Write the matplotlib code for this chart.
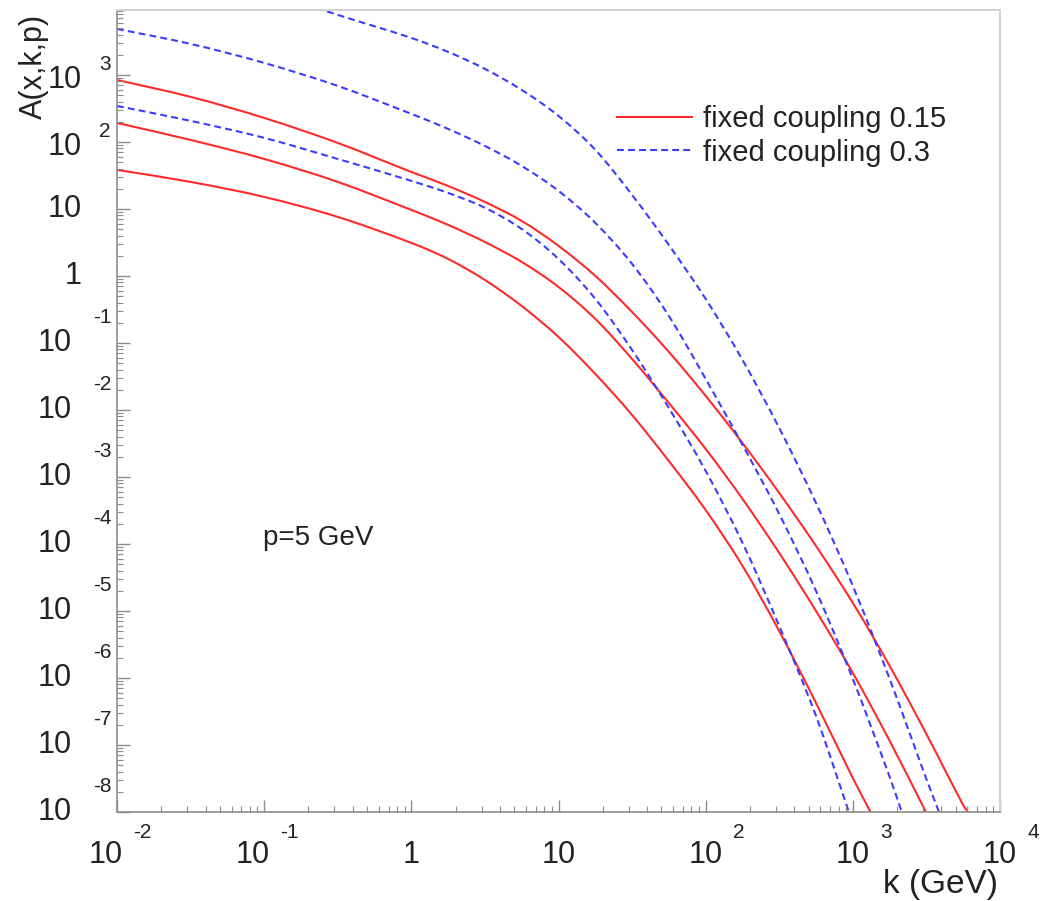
import matplotlib
matplotlib.use("Agg")
import numpy as np
import matplotlib.pyplot as plt
from matplotlib.ticker import LogLocator, NullFormatter
from matplotlib.lines import Line2D
from matplotlib.path import Path
from matplotlib.patches import PathPatch

plt.rcParams["font.family"] = ["Liberation Sans", "DejaVu Sans"]

_TEXT = "#222222"
_RED = "#ff2a2a"
_BLUE = "#3c3cff"
_AXIS = "#8c8c8c"
_FRAME = "#d2d2d2"

# k grid (GeV), quarter decades in the bend
k_grid = [0.01, 0.0316, 0.1, 0.316, 1, 1.78, 3.16, 5.62, 10, 17.8,
          31.6, 56.2, 100, 178, 316, 562, 1000, 1780, 3160, 5620]

# fixed coupling 0.15 (solid red), values on k_grid, then the k where A hits 1e-8
red_1 = [841, 470, 228, 96.6, 35.6, 22.0, 12.7, 6.62, 2.81, 1.00,
         0.290, 0.0735, 0.0162, 3.21e-3, 5.77e-4, 9.33e-5, 1.32e-5, 1.51e-6,
         1.46e-7, 1.27e-8]
red_1_end = 6050
red_2 = [192, 107, 55.7, 25.3, 9.66, 5.77, 3.21, 1.62, 0.685, 0.228,
         0.0577, 0.0127, 2.62e-3, 4.70e-4, 7.35e-5, 1.00e-5, 1.19e-6, 1.15e-7]
red_2_end = 3140
red_3 = [38.2, 25.3, 15.1, 7.60, 3.11, 1.79, 0.871, 0.356, 0.123, 0.0344,
         8.41e-3, 1.73e-3, 3.21e-4, 4.70e-5, 5.02e-6, 4.24e-7, 3.21e-8]
red_3_end = 1320

# fixed coupling 0.3 (dashed blue)
blue_1 = [4860, 2900, 1510, 685, 262, 156, 87.1, 43.8, 18.6, 6.18,
          1.51, 0.253, 0.0290, 3.01e-3, 2.81e-4, 1.99e-5, 9.66e-7, 3.33e-8]
blue_1_end = 2150
blue_2 = [344, 206, 115, 55.7, 26.2, 17.3, 10.4, 5.02, 1.79, 0.454,
          0.0787, 0.0107, 1.23e-3, 1.04e-4, 5.97e-6, 2.71e-7]
blue_2_end = 940
blue_3_start = 2   # first k_grid index (the curve starts above the frame)
blue_3 = [17900, 7870, 3560, 2200, 1230, 597, 244, 76.0, 16.2, 2.90,
          0.454, 0.0557, 5.38e-3, 4.09e-4, 2.36e-5, 9.66e-7, 3.11e-8]
blue_3_end = 3850

A_MIN = 1e-8
x_labels = [(-2, "10", "-2"), (-1, "10", "-1"), (0, "1", None), (1, "10", None),
            (2, "10", "2"), (3, "10", "3"), (4, "10", "4")]
y_labels = [(e, "10", str(e)) for e in range(-8, 0)] + [(0, "1", None), (1, "10", None),
                                                       (2, "10", "2"), (3, "10", "3")]

W, H = 1041, 901
fig = plt.figure(figsize=(W / 100, H / 100), dpi=100)
ax = fig.add_axes([117 / W, 1 - 812 / H, 883 / W, 802 / H])


def smooth_path(vals, end, start=0):
    """Cubic Hermite curve through the read points, in log-log space."""
    ks = k_grid[start:start + len(vals)] + [end]
    x = np.log10(ks)
    y = np.log10(list(vals) + [A_MIN])
    m = np.empty_like(y)
    m[1:-1] = (y[2:] - y[:-2]) / (x[2:] - x[:-2])
    m[0] = (y[1] - y[0]) / (x[1] - x[0])
    m[-1] = (y[-1] - y[-2]) / (x[-1] - x[-2])
    verts, codes = [(x[0], y[0])], [Path.MOVETO]
    for i in range(len(x) - 1):
        h = (x[i + 1] - x[i]) / 3.0
        verts += [(x[i] + h, y[i] + m[i] * h),
                  (x[i + 1] - h, y[i + 1] - m[i + 1] * h),
                  (x[i + 1], y[i + 1])]
        codes += [Path.CURVE4] * 3
    return Path(10.0 ** np.array(verts), codes)


dash = (0, (3.3, 2.0))
for vals, end in [(red_1, red_1_end), (red_2, red_2_end), (red_3, red_3_end)]:
    ax.add_patch(PathPatch(smooth_path(vals, end), facecolor="none",
                           edgecolor=_RED, lw=1.5))
for vals, end, s in [(blue_1, blue_1_end, 0), (blue_2, blue_2_end, 0),
                     (blue_3, blue_3_end, blue_3_start)]:
    ax.add_patch(PathPatch(smooth_path(vals, end, s), facecolor="none",
                           edgecolor=_BLUE, lw=1.5, linestyle=dash))

ax.set_xscale("log")
ax.set_yscale("log")
ax.set_xlim(1e-2, 1e4)
ax.set_ylim(A_MIN, 9.3e3)

for side in ("top", "right"):
    ax.spines[side].set_color(_FRAME)
    ax.spines[side].set_linewidth(1.5)
for side in ("left", "bottom"):
    ax.spines[side].set_color(_AXIS)
    ax.spines[side].set_linewidth(1.2)

for axis in (ax.xaxis, ax.yaxis):
    axis.set_major_locator(LogLocator(base=10, numticks=20))
    axis.set_minor_locator(LogLocator(base=10, subs=range(2, 10), numticks=20))
    axis.set_major_formatter(NullFormatter())
    axis.set_minor_formatter(NullFormatter())
ax.tick_params(which="both", direction="in", color=_AXIS, top=False, right=False)
ax.tick_params(which="major", length=9, width=1.0)
ax.tick_params(which="minor", length=4.5, width=0.8)

# ROOT-style tick labels: "10" with the exponent raised to its right
xt = ax.get_xaxis_transform()
for e, base, exp in x_labels:
    v = 10.0 ** e
    if exp is None:
        ax.annotate(base, (v, 0), xycoords=xt, xytext=(0, -43), textcoords="offset pixels",
                    ha="center", va="center", fontsize=22, color=_TEXT)
        continue
    neg = exp.startswith("-")
    ax.annotate(base, (v, 0), xycoords=xt, xytext=(6 if neg else 17, -43),
                textcoords="offset pixels", ha="right", va="center", fontsize=22, color=_TEXT)
    ax.annotate(exp, (v, 0), xycoords=xt, xytext=(16 if neg else 27, -20),
                textcoords="offset pixels", ha="left", va="center", fontsize=15, color=_TEXT)

yt = ax.get_yaxis_transform()
for e, base, exp in y_labels:
    v = 10.0 ** e
    if exp is None:
        ax.annotate(base, (0, v), xycoords=yt, xytext=(-35, 0), textcoords="offset pixels",
                    ha="right", va="center", fontsize=22, color=_TEXT)
        continue
    neg = exp.startswith("-")
    ax.annotate(base, (0, v), xycoords=yt, xytext=(-45 if neg else -35, 0 if neg else -5),
                textcoords="offset pixels", ha="right", va="center", fontsize=22, color=_TEXT)
    ax.annotate(exp, (0, v), xycoords=yt, xytext=(-5 if neg else -6, 25 if neg else 10),
                textcoords="offset pixels", ha="right", va="center", fontsize=15, color=_TEXT)

fig.text(34 / W, 1 - 14 / H, "A(x,k,p)", rotation=90, ha="center", va="top",
         fontsize=22, color=_TEXT)
fig.text(998 / W, 1 - 884 / H, "k (GeV)", ha="right", va="center", fontsize=24, color=_TEXT)
fig.text(263 / W, 1 - 545 / H, "p=5 GeV", ha="left", va="baseline", fontsize=20, color=_TEXT)

handles = [Line2D([], [], color=_RED, lw=1.5),
           Line2D([], [], color=_BLUE, lw=1.5, linestyle=dash)]
fig.legend(handles, ["fixed coupling 0.15", "fixed coupling 0.3"],
           loc="upper left", bbox_to_anchor=(617 / W, 1 - 105 / H), frameon=False,
           fontsize=21, handlelength=2.57, handletextpad=0.38, labelspacing=0.19,
           borderpad=0, borderaxespad=0, labelcolor=_TEXT)

fig.savefig("out.png", dpi=100)
